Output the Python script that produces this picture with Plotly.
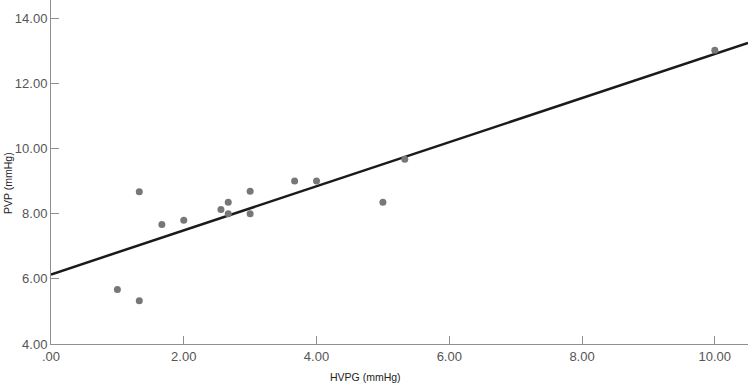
import numpy as np
import plotly.graph_objects as go

hvpg = [1.0, 1.33, 1.33, 1.67, 2.0, 2.56, 2.67, 2.67, 3.0, 3.0, 3.67, 4.0, 5.0, 5.33, 10.0]
pvp = [5.67, 5.33, 8.67, 7.67, 7.8, 8.13, 8.35, 8.0, 8.69, 8.0, 9.0, 9.0, 8.35, 9.67, 13.02]

x_tickvals = [0, 2, 4, 6, 8, 10]
x_ticktext = [".00", "2.00", "4.00", "6.00", "8.00", "10.00"]
y_tickvals = [4, 6, 8, 10, 12, 14]
y_ticktext = ["4.00", "6.00", "8.00", "10.00", "12.00", "14.00"]

x_range = [0, 10.5]
y_range = [4, 14.56]

slope, intercept = np.polyfit(hvpg, pvp, 1)
line_x = np.array(x_range)
line_y = intercept + slope * line_x

axis_col = "#8f8f8f"
font_fam = "Liberation Sans, Arial, sans-serif"

fig = go.Figure()
fig.add_trace(go.Scatter(x=line_x, y=line_y, mode="lines",
                         line=dict(color="#1a1a1a", width=2.5),
                         hoverinfo="skip", showlegend=False, cliponaxis=False))
fig.add_trace(go.Scatter(x=hvpg, y=pvp, mode="markers",
                         marker=dict(color="#777777", size=7, line=dict(width=0)),
                         showlegend=False))

fig.update_layout(
    width=750, height=384,
    margin=dict(l=51, r=2, t=0, b=40),
    paper_bgcolor="white", plot_bgcolor="white",
    font=dict(family=font_fam, size=13, color="#555555"),
    xaxis=dict(range=x_range, tickvals=x_tickvals, ticktext=x_ticktext,
               showgrid=False, zeroline=False, showline=True,
               linecolor=axis_col, linewidth=1, ticks="inside",
               ticklen=8, tickcolor=axis_col, tickwidth=1,
               tickfont=dict(family=font_fam, size=13, color="#555555")),
    yaxis=dict(range=y_range, tickvals=y_tickvals, ticktext=y_ticktext,
               showgrid=False, zeroline=False, showline=True,
               linecolor=axis_col, linewidth=1, ticks="inside",
               ticklen=8, tickcolor=axis_col, tickwidth=1,
               tickfont=dict(family=font_fam, size=13, color="#555555")),
    annotations=[
        dict(text="HVPG (mmHg)", xref="paper", yref="paper",
             x=(365 - 51) / (748 - 51), y=0, yshift=-33,
             xanchor="center", yanchor="middle", showarrow=False,
             font=dict(family=font_fam, size=10.5, color="#222222")),
        dict(text="PVP (mmHg)", xref="paper", yref="paper",
             x=0, xshift=-43, y=(344 - 183) / 344,
             xanchor="center", yanchor="middle", showarrow=False,
             textangle=-90,
             font=dict(family=font_fam, size=10.5, color="#222222")),
    ],
)

fig.write_html("out.html")
